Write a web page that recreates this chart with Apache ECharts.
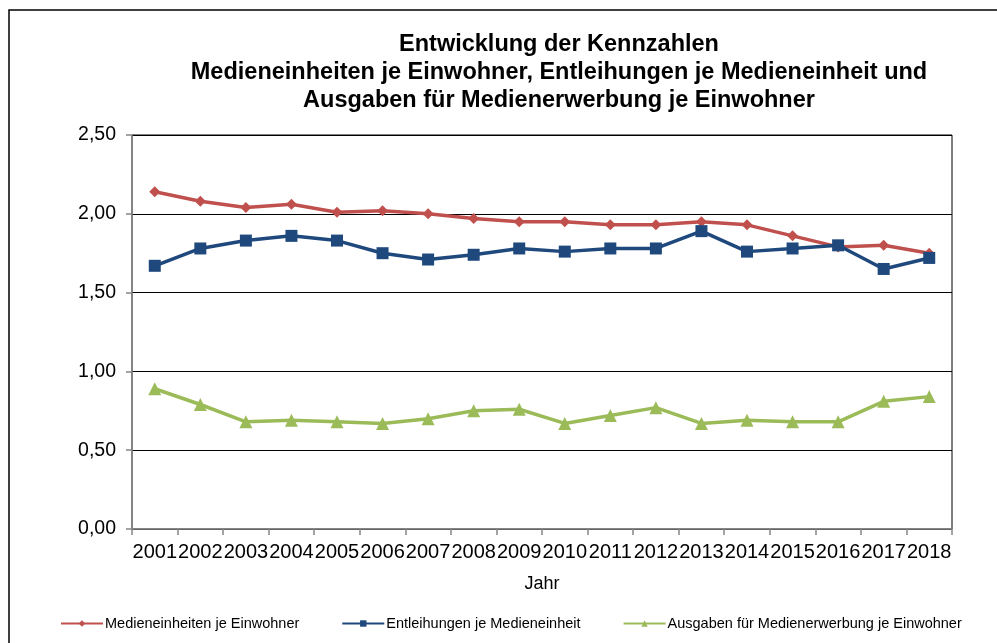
<!DOCTYPE html>
<html>
<head>
<meta charset="utf-8">
<script src="https://cdn.jsdelivr.net/npm/echarts@6/dist/echarts.min.js"></script>
<style>
  html, body { margin: 0; padding: 0; background: #fff; }
  #chart { width: 997px; height: 643px; }
</style>
</head>
<body>
<div id="chart"></div>
<script>
const years = ['2001', '2002', '2003', '2004', '2005', '2006', '2007', '2008', '2009',
  '2010', '2011', '2012', '2013', '2014', '2015', '2016', '2017', '2018'];

const medienJeEinwohner = [2.14, 2.08, 2.04, 2.06, 2.01, 2.02, 2.00, 1.97, 1.95,
  1.95, 1.93, 1.93, 1.95, 1.93, 1.86, 1.79, 1.80, 1.75];
const entleihungenJeMedium = [1.67, 1.78, 1.83, 1.86, 1.83, 1.75, 1.71, 1.74, 1.78,
  1.76, 1.78, 1.78, 1.89, 1.76, 1.78, 1.80, 1.65, 1.72];
const ausgabenJeEinwohner = [0.89, 0.79, 0.68, 0.69, 0.68, 0.67, 0.70, 0.75, 0.76,
  0.67, 0.72, 0.77, 0.67, 0.69, 0.68, 0.68, 0.81, 0.84];

const seriesNames = ['Medieneinheiten je Einwohner', 'Entleihungen je Medieneinheit',
  'Ausgaben für Medienerwerbung je Einwohner'];

const titleLines = ['Entwicklung der Kennzahlen',
  'Medieneinheiten je Einwohner, Entleihungen je Medieneinheit und',
  'Ausgaben für Medienerwerbung je Einwohner'];

const FONT = 'Arial, "Liberation Sans", sans-serif';

function lineSeries(name, data, color, symbol, size) {
  return {
    name: name,
    type: 'line',
    data: data,
    symbol: symbol,
    symbolSize: size,
    lineStyle: { color: color, width: 3.5 },
    itemStyle: { color: color },
    z: 3
  };
}

const option = {
  animation: false,
  textStyle: { fontFamily: FONT },
  graphic: [
    {
      type: 'rect',
      shape: { x: 9, y: 10, width: 1000, height: 700 },
      style: { fill: 'none', stroke: '#000', lineWidth: 1.5 },
      silent: true
    },
    {
      type: 'text',
      x: 559,
      y: 31,
      style: {
        text: titleLines.join('\n'),
        font: 'bold 23.5px ' + FONT,
        lineHeight: 28,
        textAlign: 'center',
        fill: '#000'
      }
    }
  ],
  grid: {
    left: 132,
    right: 45,
    top: 135,
    bottom: 114,
    show: true,
    borderColor: '#000',
    borderWidth: 1
  },
  legend: {
    left: 60,
    top: 616,
    padding: 0,
    itemWidth: 42,
    itemHeight: 8,
    itemGap: 42,
    textStyle: { fontSize: 14.5, color: '#000', fontFamily: FONT, padding: [0, 0, 0, -3] },
    data: seriesNames
  },
  xAxis: {
    type: 'category',
    data: years,
    boundaryGap: true,
    name: 'Jahr',
    nameLocation: 'middle',
    nameGap: 46,
    nameTextStyle: { fontSize: 18, color: '#000' },
    axisLine: { lineStyle: { color: '#868686', width: 1.5 } },
    axisTick: { show: true, length: 6, lineStyle: { color: '#868686', width: 1.5 } },
    axisLabel: { fontSize: 20, color: '#000', margin: 13, interval: 0 }
  },
  yAxis: {
    type: 'value',
    min: 0,
    max: 2.5,
    interval: 0.5,
    axisLine: { show: true, lineStyle: { color: '#868686', width: 1.5 } },
    axisTick: { show: true, length: 6, lineStyle: { color: '#868686', width: 1.5 } },
    splitLine: { lineStyle: { color: '#000', width: 1 } },
    axisLabel: {
      fontSize: 19.5,
      color: '#000',
      margin: 16,
      formatter: v => v.toFixed(2).replace('.', ',')
    }
  },
  series: [
    lineSeries(seriesNames[0], medienJeEinwohner, '#C0504D', 'diamond', 11),
    lineSeries(seriesNames[1], entleihungenJeMedium, '#1F497D', 'rect', 12),
    lineSeries(seriesNames[2], ausgabenJeEinwohner, '#9BBB59', 'triangle', 13)
  ]
};

const myChart = echarts.init(document.getElementById('chart'));
myChart.setOption(option);
</script>
</body>
</html>
